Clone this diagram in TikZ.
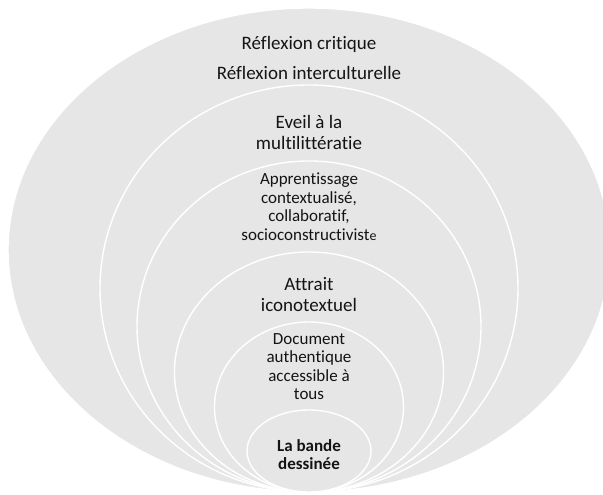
\documentclass[tikz,border=0pt]{standalone}
\usepackage{fontspec}
\setmainfont{Carlito}[Ligatures={NoCommon,NoContextual}]
\definecolor{ringgray}{RGB}{230,230,230}
\definecolor{inkgray}{RGB}{20,20,20}
\tikzset{
  ring/.style={fill=ringgray, draw=white, line width=1.4pt},
  biglbl/.style={align=center, text=inkgray, inner sep=0pt, font=\fontsize{19}{21}\selectfont},
  smalllbl/.style={align=center, text=inkgray, inner sep=0pt, font=\fontsize{17}{18.5}\selectfont}
}

\begin{document}
\begin{tikzpicture}[x=1pt, y=1pt]
			%%%%% RINGS %%%%%
			\useasboundingbox (0, 0) rectangle (603, 495);
			\clip (0, 0) rectangle (603, 495);
			
			\draw[ring] (309, 245) ellipse (301 and 242);
			\draw[ring] (309, 206.5) ellipse (209 and 203.5);
			\draw[ring] (309, 168.5) ellipse (172 and 165.5);
			\draw[ring] (309, 123) ellipse (134.5 and 120);
			\draw[ring] (309, 88) ellipse (94.5 and 85);
			\draw[ring] (309, 44) ellipse (62 and 41);
			
			%%%%% LABELS %%%%%
			\node[biglbl] (critique) at (309, 451) {Réflexion critique};
			\node[biglbl] (interculturel) at (309, 422) {Réflexion interculturelle};
			
			\node[biglbl] (eveil) at (309, 362.5) {Eveil à la\\multilittératie};
			
			\node[smalllbl] (apprentissage) at (309, 288.5) {Apprentissage\\contextualisé,\\collaboratif,\\socioconstructivist{\fontsize{14}{18.5}\selectfont e}};
			
			\node[biglbl] (attrait) at (309, 200.5) {Attrait\\iconotextuel};
			
			\node[smalllbl] (document) at (309, 128.5) {Document\\authentique\\accessible à\\tous};
			
			\node[smalllbl, font=\fontsize{17}{17.7}\selectfont\bfseries] (bd) at (309, 40.5) {La bande\\dessinée};
			
			%%%%% END %%%%%
\end{tikzpicture}
\end{document}
